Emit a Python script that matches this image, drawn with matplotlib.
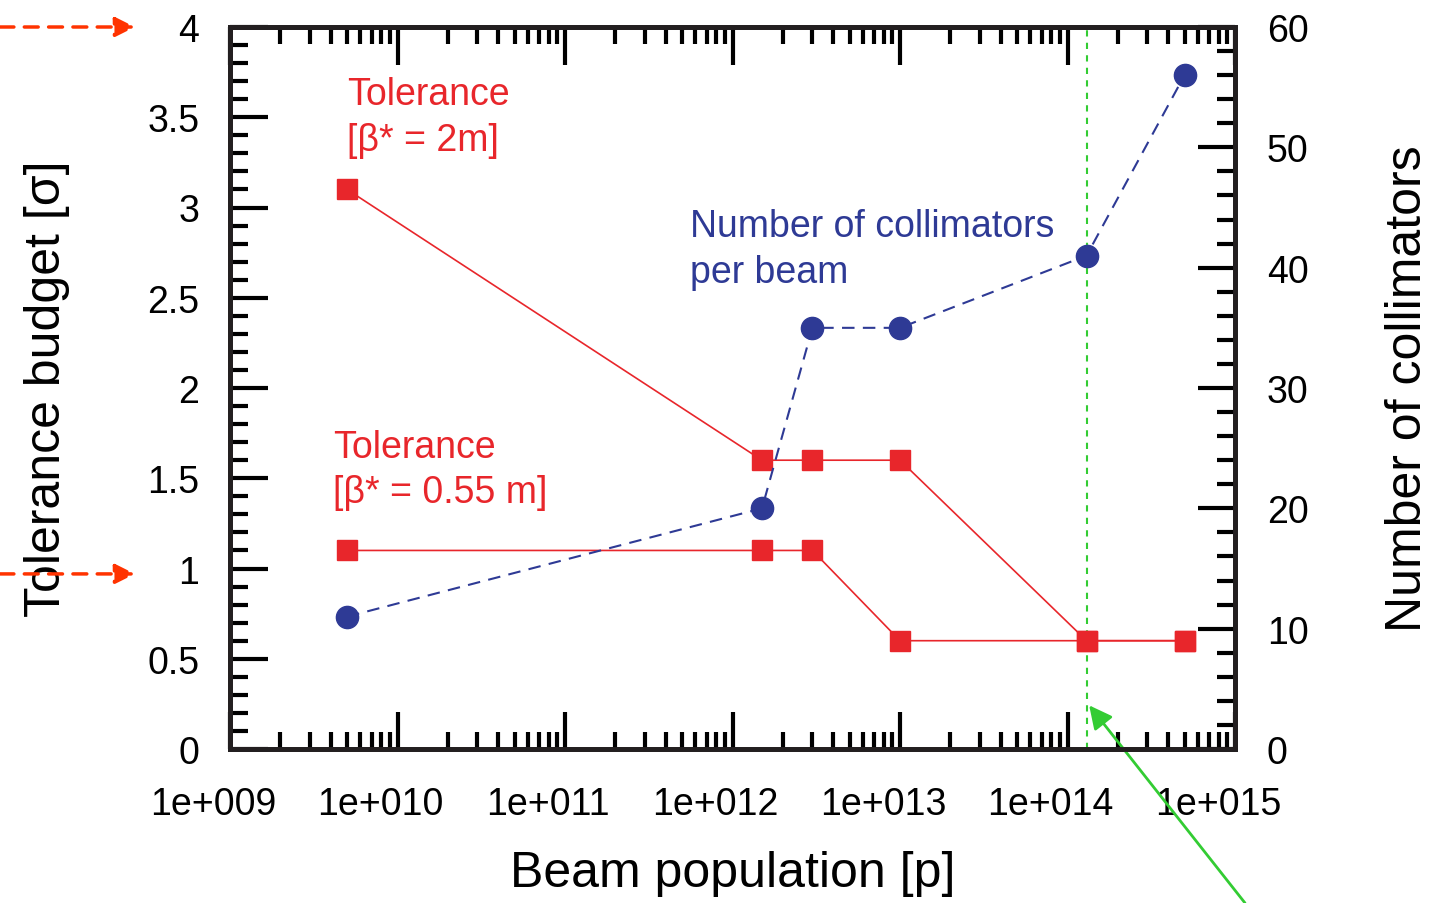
import numpy as np
import matplotlib.pyplot as plt
import matplotlib.ticker as mticker
from matplotlib.transforms import ScaledTranslation, blended_transform_factory

plt.rcParams['font.family'] = ['Liberation Sans', 'DejaVu Sans']

# data
beam_pop = [5e9, 1.5e12, 3e12, 1e13, 1.3e14, 5e14]
tol_2m = [3.1, 1.6, 1.6, 1.6, 0.6, 0.6]
tol_055m = [1.1, 1.1, 1.1, 0.6, 0.6, 0.6]
n_collimators = [11, 20, 35, 35, 41, 56]

x_ticks = [1e9, 1e10, 1e11, 1e12, 1e13, 1e14, 1e15]
x_ticklabels = ['1e+009', '1e+010', '1e+011', '1e+012', '1e+013', '1e+014', '1e+015']
y_ticks = [0, 0.5, 1, 1.5, 2, 2.5, 3, 3.5, 4]
y_ticklabels = ['0', '0.5', '1', '1.5', '2', '2.5', '3', '3.5', '4']
y2_ticks = [0, 10, 20, 30, 40, 50, 60]

marker_x = 1.3e14          # green vertical line
red_arrow_y = [4.0, 0.97]  # red arrows on the left
green_arrow_y = 0.26       # where the green arrow points

red = '#e8262b'
blue = '#2e3a95'
green = '#33cc33'
orange = '#ff3300'

fig = plt.figure(figsize=(14.39, 9.04), dpi=100)
ax = fig.add_axes([230/1439, 154/904, 1005/1439, 722/904])
ax2 = ax.twinx()

ax.set_xscale('log')
ax.set_xlim(1e9, 1e15)
ax.set_ylim(0, 4)
ax2.set_ylim(0, 60)

ax.plot(beam_pop, tol_2m, '-', color=red, lw=1.2, marker='s', ms=14.5, mec=red, zorder=3)
ax.plot(beam_pop, tol_055m, '-', color=red, lw=1.2, marker='s', ms=14.5, mec=red, zorder=3)
ax2.plot(beam_pop, n_collimators, '--', color=blue, lw=1.5, dashes=(6, 4), marker='o', ms=16, mec=blue, zorder=3)
ax.axvline(marker_x, color=green, lw=1.5, ls=(0, (3, 3)), zorder=2)

# ticks
ax.set_xticks(x_ticks)
ax.set_xticklabels(x_ticklabels)
ax.xaxis.set_minor_locator(mticker.LogLocator(base=10, subs=np.arange(2, 10), numticks=20))
ax.xaxis.set_minor_formatter(mticker.NullFormatter())
ax.set_yticks(y_ticks)
ax.set_yticklabels(y_ticklabels)
ax.yaxis.set_minor_locator(mticker.MultipleLocator(0.1))
ax2.set_yticks(y2_ticks)
ax2.yaxis.set_minor_locator(mticker.MultipleLocator(2))

ax.tick_params(axis='x', which='both', direction='in', top=True, bottom=True, width=3, labelsize=27, pad=27)
ax.tick_params(axis='x', which='major', length=27)
ax.tick_params(axis='x', which='minor', length=12)
ax.tick_params(axis='y', which='both', direction='in', left=True, right=False, width=3, labelsize=27, pad=22)
ax.tick_params(axis='y', which='major', length=27)
ax.tick_params(axis='y', which='minor', length=13)
ax2.tick_params(axis='y', which='both', direction='in', right=True, left=False, width=3, labelsize=27, pad=23)
ax2.tick_params(axis='y', which='major', length=27)
ax2.tick_params(axis='y', which='minor', length=13)

# x tick labels sit a bit left of their ticks
shift = ScaledTranslation(-0.17, 0, fig.dpi_scale_trans)
for lab in ax.get_xticklabels():
    lab.set_transform(lab.get_transform() + shift)

for sp in list(ax.spines.values()) + list(ax2.spines.values()):
    sp.set_linewidth(3.5)
    sp.set_color('#231f20')

ax.set_xlabel('Beam population [p]', fontsize=36, labelpad=20)
ax.set_ylabel('Tolerance budget [σ]', fontsize=36, labelpad=56)
ax2.set_ylabel('Number of collimators', fontsize=36, labelpad=55)
ax2.yaxis.label.set_rotation(90)

ax.text(5e9, 3.73, 'Tolerance\n[β* = 2m]', color=red, fontsize=27, va='top', ha='left', linespacing=1.35)
ax.text(4.1e9, 1.775, 'Tolerance\n[β* = 0.55 m]', color=red, fontsize=27, va='top', ha='left', linespacing=1.35)
ax.text(5.6e11, 2.995, 'Number of collimators\nper beam', color=blue, fontsize=27, va='top', ha='left', linespacing=1.35)

# arrows outside the frame
trans = blended_transform_factory(fig.transFigure, ax.transData)
for yv in red_arrow_y:
    ax.annotate('', xy=(135/1439, yv), xycoords=trans, xytext=(0, yv), textcoords=trans,
                arrowprops=dict(arrowstyle='-|>', color=orange, lw=2.5, ls=(0, (4, 3)),
                                mutation_scale=30, shrinkA=0, shrinkB=0),
                annotation_clip=False)
ax.annotate('', xy=(marker_x, green_arrow_y), xytext=(1245/1439, 0.0), textcoords='figure fraction',
            arrowprops=dict(arrowstyle='-|>', color=green, lw=2, mutation_scale=35, shrinkA=0, shrinkB=3),
            annotation_clip=False)

fig.savefig('out.png', dpi=100)
